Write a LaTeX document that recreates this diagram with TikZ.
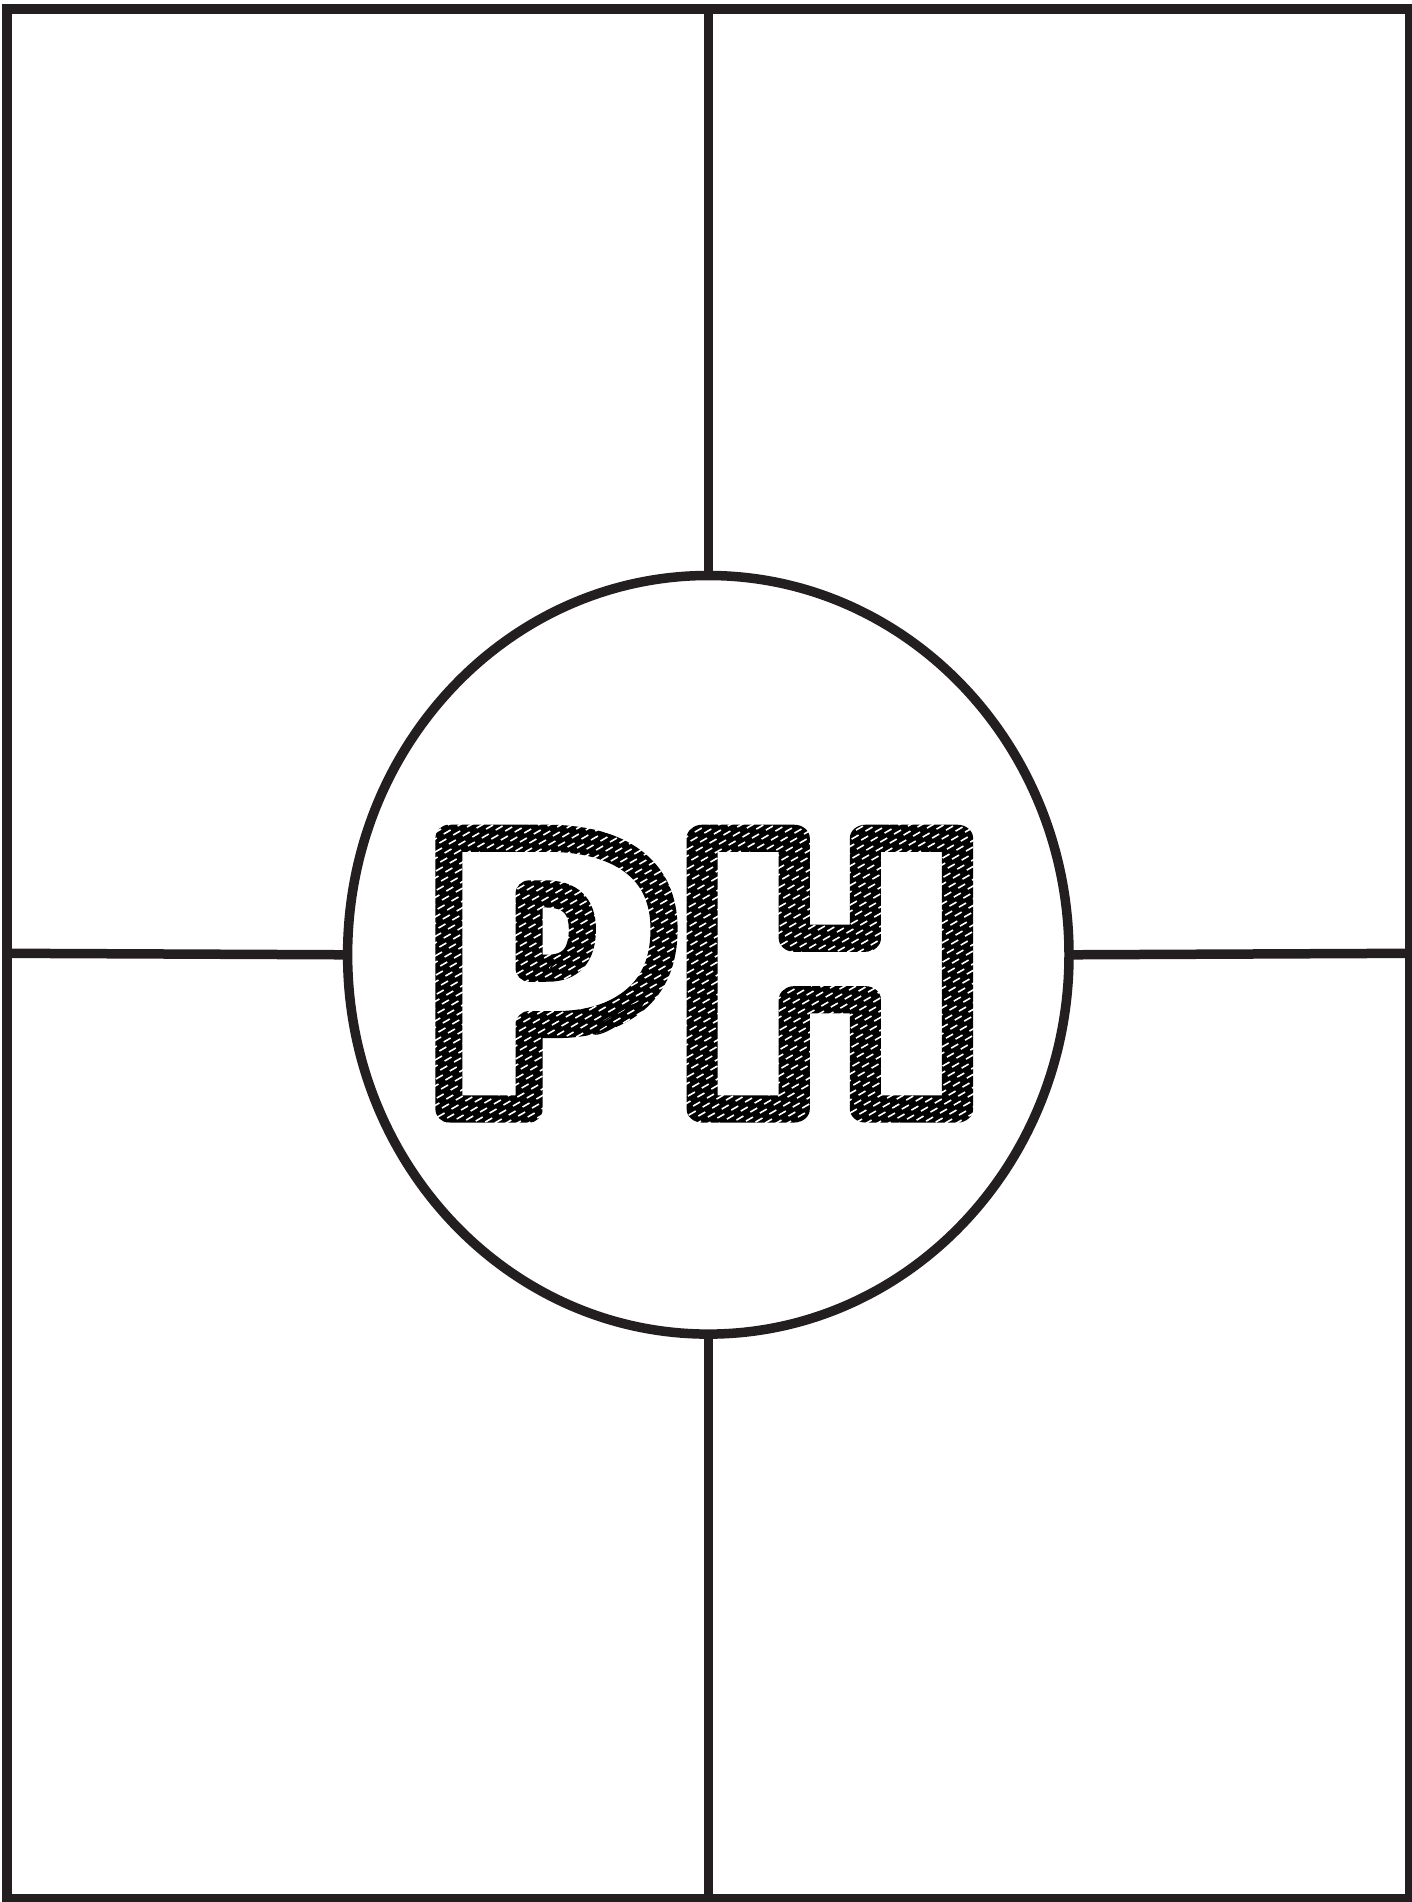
\documentclass[tikz,border=0pt]{standalone}
\usepackage{fontspec}
\usepackage{graphicx}
\usetikzlibrary{shapes.geometric}
\newfontfamily\heavyfont{Fira Sans Black}
\definecolor{frame}{HTML}{231F20}
\newcommand\strokedtext[1]{\special{pdf:literal direct 1 Tr 27 w 1 j 0 G}#1\special{pdf:literal direct 0 Tr 1 w}}
\begin{document}
\begin{tikzpicture}[x=1pt,y=-1pt,
  frameline/.style={draw=frame, line width=9.5pt},
  scribble/.style={white, line width=1.6pt, dash pattern=on 8pt off 8pt},
  loopline/.style={black, line width=1.3pt}]
\useasboundingbox (0,0) rectangle (1412,1902);
\fill[white] (0,0) rectangle (1412,1902);
\draw[frameline] (7,9) rectangle (1410,1899);
\node[frameline, ellipse, minimum width=721.4pt, minimum height=758.6pt,
      inner sep=0pt, outer sep=0pt] (c) at (708.3,954.8) {};
\coordinate (tp) at (708.3,9);
\coordinate (bt) at (708.3,1899);
\coordinate (lf) at (7,953.3);
\coordinate (rt) at (1410,953.3);
\draw[frameline] (tp) -- (c.north);
\draw[frameline] (c.south) -- (bt);
\draw[frameline] (lf) -- (c.west);
\draw[frameline] (c.east) -- (rt);
\node[anchor=base west, inner sep=0pt] (ph) at (432,1109)
  {\heavyfont\fontsize{389}{389}\selectfont\strokedtext{P\kern13pt\scalebox{1.15}[1]{H}}};
\begin{scope}
  \clip (410,800) rectangle (995,1150);
  \foreach \i [evaluate=\i as \ph using {mod(\i*37,16)}] in {0,...,120}
    \draw[scribble, dash phase=\ph pt] (390,800+\i*6.5) -- ++(700,-404);
\end{scope}
% stray scribble loops of the hand-drawn P
\draw[loopline] (596,1031) .. controls (606,1026) and (628,1008) .. (642,1000)
  .. controls (648,1002) and (636,1014) .. (612,1028)
  .. controls (600,1035) and (590,1036) .. (596,1031);
\draw[loopline] (603,1022) .. controls (615,1014) and (630,1004) .. (640,1003);
\draw[loopline] (552,966) .. controls (562,958) and (575,950) .. (586,944)
  .. controls (588,948) and (575,958) .. (560,966)
  .. controls (553,970) and (548,969) .. (552,966);
\end{tikzpicture}
\end{document}
